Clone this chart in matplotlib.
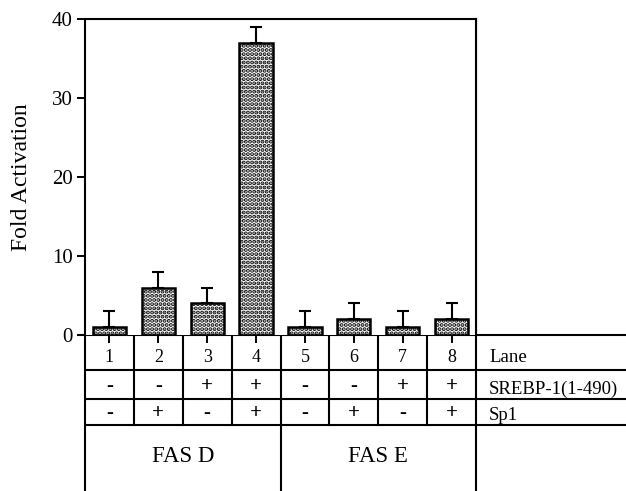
import numpy as np
import matplotlib
matplotlib.use("Agg")
import matplotlib.pyplot as plt

plt.rcParams['font.family'] = ['Liberation Serif', 'DejaVu Serif']
plt.rcParams['hatch.linewidth'] = 2.0

lanes = [1, 2, 3, 4, 5, 6, 7, 8]
fold = [1, 6, 4, 37, 1, 2, 1, 2]
err = [2, 2, 2, 2, 2, 2, 2, 2]
srebp = ['-', '-', '+', '+', '-', '-', '+', '+']
sp1 = ['-', '+', '-', '+', '-', '+', '-', '+']
groups = ['FAS D', 'FAS E']
row_labels = ['Lane', 'SREBP-1(1-490)', 'Sp1']

W, H = 626, 491
fig = plt.figure(figsize=(W / 100, H / 100), dpi=100)

# main bar axes (pixel box: x 85-476, y 19-335)
ax = fig.add_axes([85 / W, (H - 335) / H, (476 - 85) / W, (335 - 19) / H])
ax.bar(lanes, fold, width=0.68, color='white', edgecolor='black',
       linewidth=1.8, hatch='....', zorder=2)
ax.errorbar(lanes, fold, yerr=[[0] * 8, err], fmt='none', ecolor='black',
            elinewidth=1.5, capsize=4.5, capthick=1.5, zorder=3)
ax.set_xlim(0.5, 8.5)
ax.set_ylim(0, 40)
ax.set_yticks([0, 10, 20, 30, 40])
ax.set_xticks(lanes)
ax.set_xticklabels([])
ax.tick_params(axis='y', direction='out', length=6, width=1.4, labelsize=15, pad=3)
ax.tick_params(axis='x', direction='out', length=6, width=1.4)
for s in ax.spines.values():
    s.set_linewidth(1.5)
ax.spines['bottom'].set_visible(False)
ax.set_ylabel('Fold Activation', fontsize=17)
ax.yaxis.set_label_coords(-0.135, 0.5)

# overlay in pixel coordinates for the table
ov = fig.add_axes([0, 0, 1, 1], zorder=-1)
ov.set_xlim(0, W)
ov.set_ylim(H, 0)
ov.axis('off')
ov.patch.set_alpha(0)

edges = np.linspace(85, 476, len(lanes) + 1)
centers = (edges[:-1] + edges[1:]) / 2
row_y = [335, 370, 399, 425]
lw = 1.5

for y in row_y:
    ov.plot([edges[0] if y != 335 else 78, W], [y, y], color='black', lw=lw, solid_capstyle='butt')
for x in edges[1:-1]:
    bottom = H if x == edges[4] else row_y[-1]
    ov.plot([x, x], [335, bottom], color='black', lw=lw)
ov.plot([edges[0], edges[0]], [335, H], color='black', lw=lw)
ov.plot([edges[-1], edges[-1]], [19, H], color='black', lw=lw)

for i, c in enumerate(centers):
    ov.text(c, 357, str(lanes[i]), ha='center', va='center', fontsize=13)
    ov.text(c, 386, srebp[i], ha='center', va='center', fontsize=15, fontweight='bold')
    ov.text(c, 413, sp1[i], ha='center', va='center', fontsize=15, fontweight='bold')

label_y = [358, 389, 415]
for lab, y in zip(row_labels, label_y):
    ov.text(489, y, lab, ha='left', va='center', fontsize=13.5)

ov.text((edges[0] + edges[4]) / 2, 457, groups[0], ha='center', va='center', fontsize=16.5)
ov.text((edges[4] + edges[8]) / 2, 457, groups[1], ha='center', va='center', fontsize=16.5)

fig.savefig('out.png', dpi=100)
